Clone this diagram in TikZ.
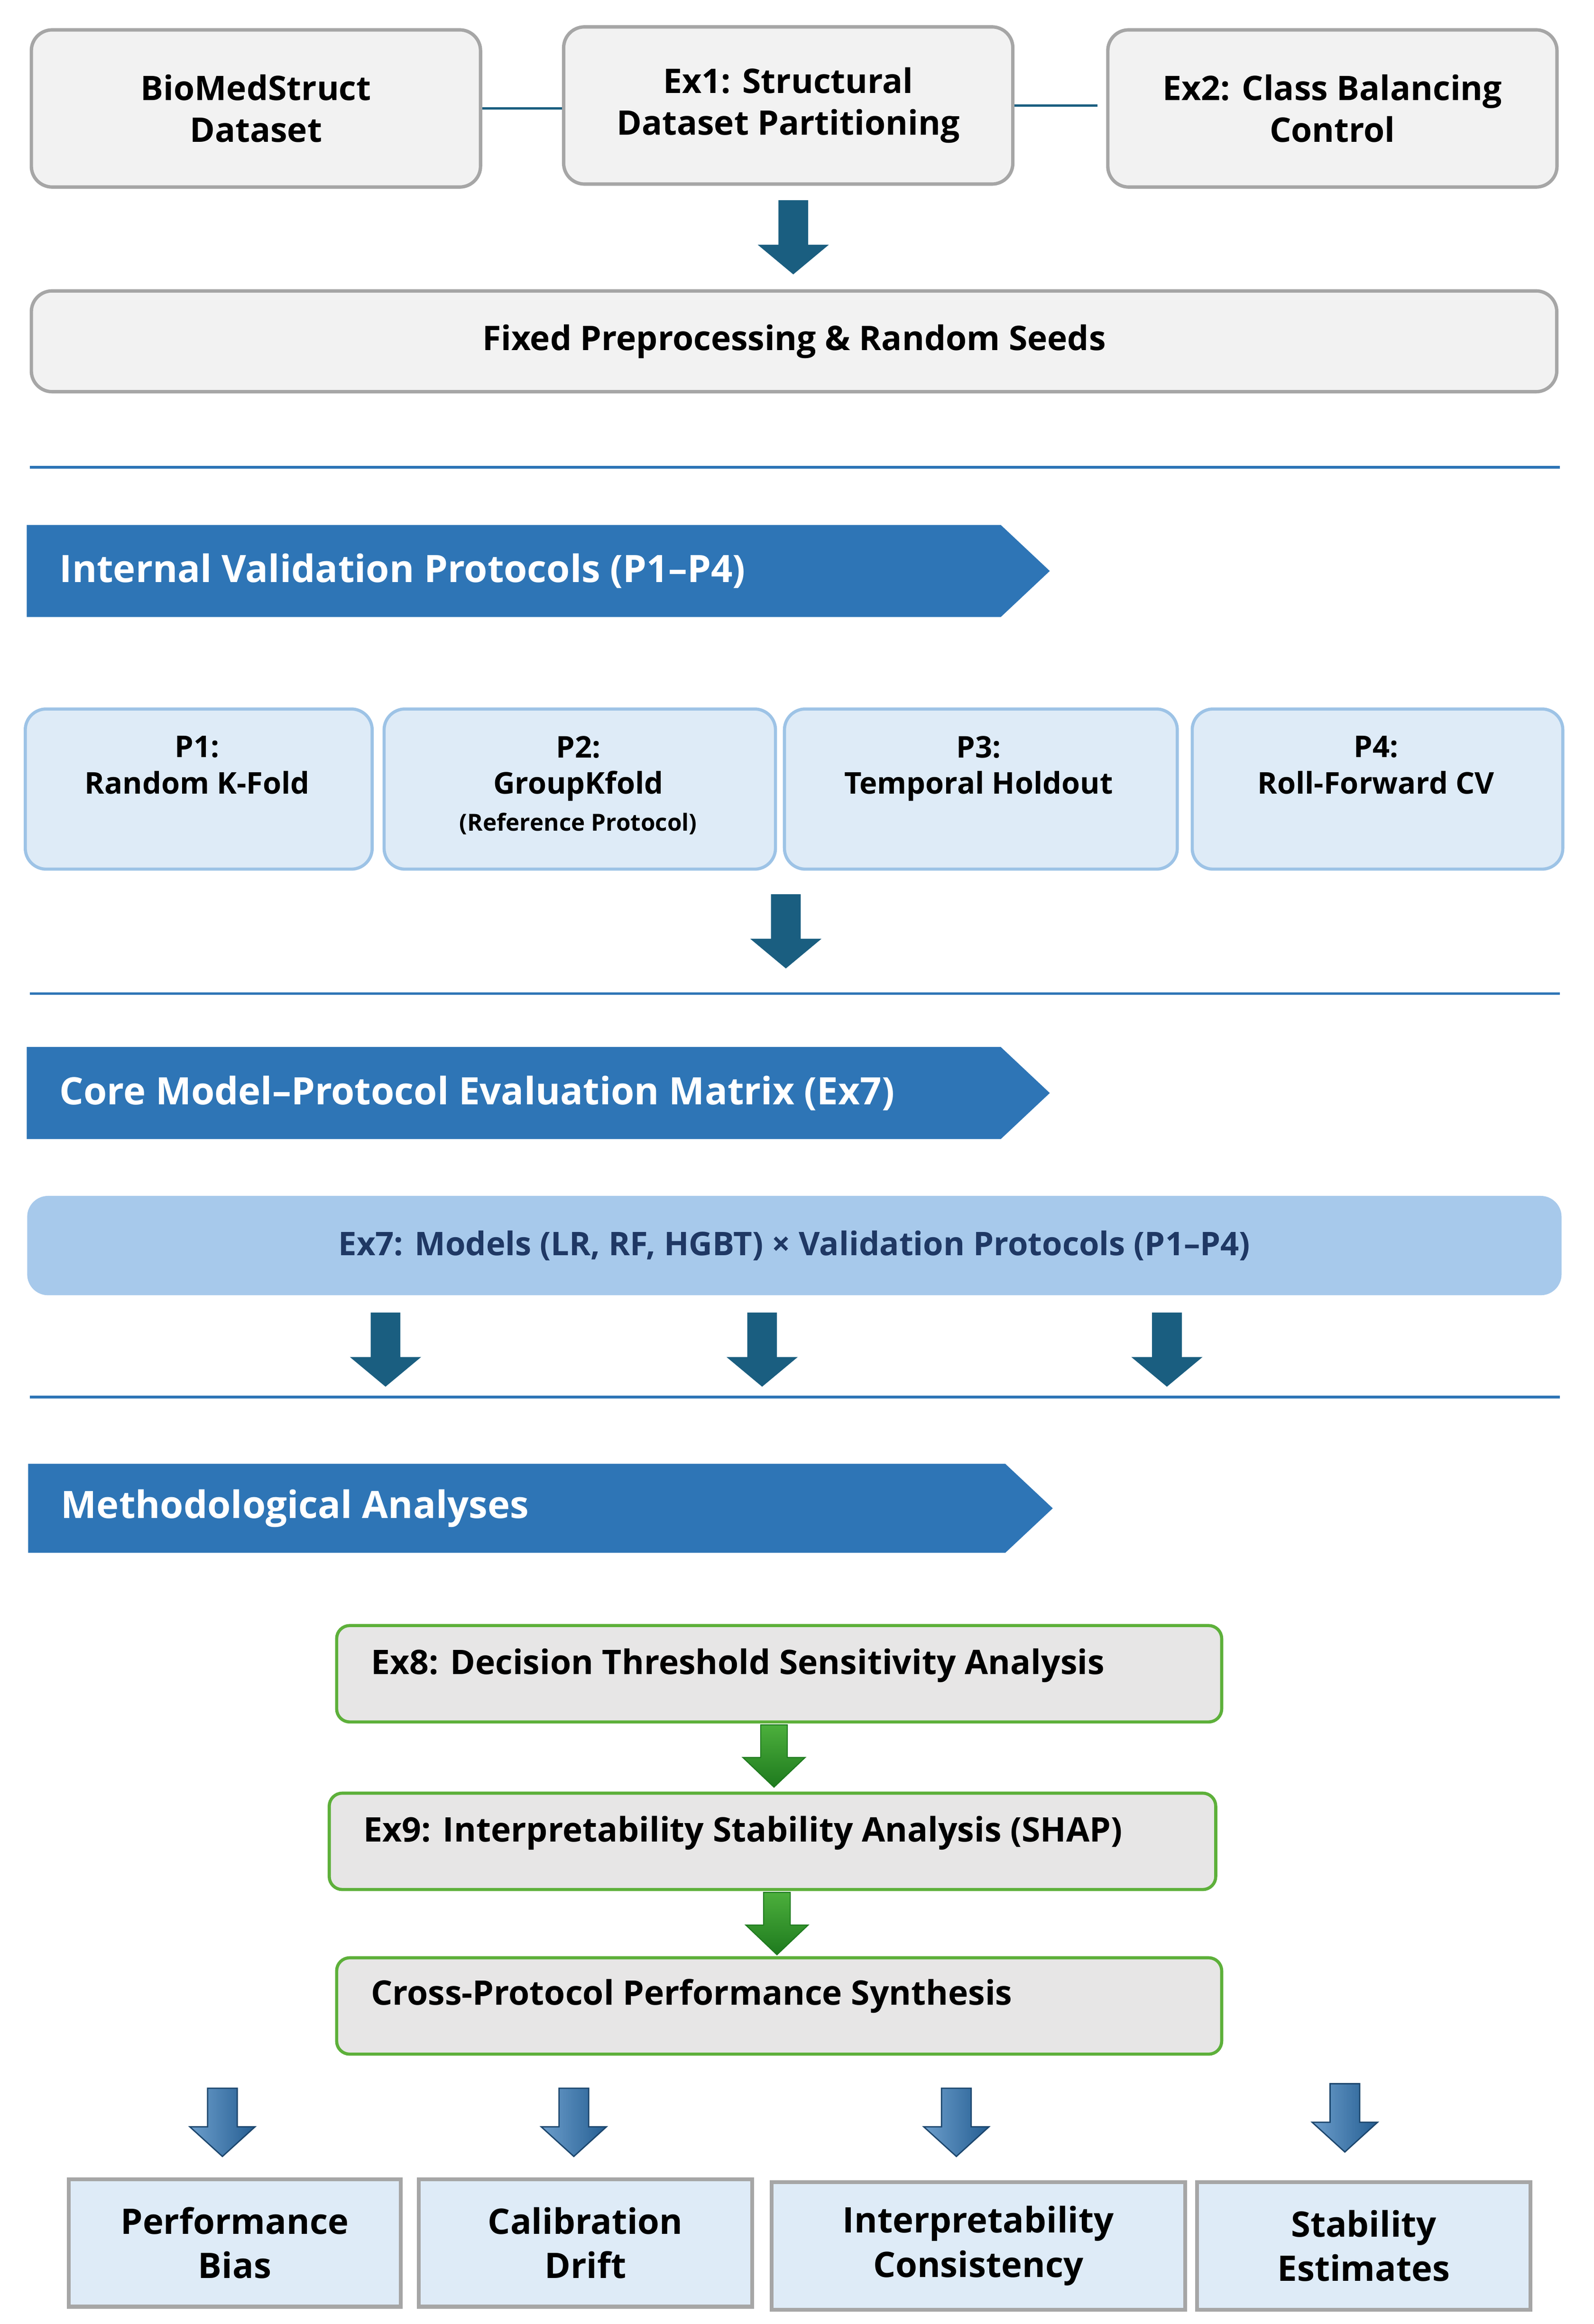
\documentclass[tikz,border=0pt]{standalone}
\usepackage{fontspec}
\setmainfont{Open Sans}
\usetikzlibrary{positioning}
\definecolor{gbox}{HTML}{F2F2F2}
\definecolor{gbord}{HTML}{A6A6A6}
\definecolor{teal}{HTML}{1A5E80}
\definecolor{band}{HTML}{2E75B6}
\definecolor{lblue}{HTML}{DEEBF7}
\definecolor{lbord}{HTML}{9DC3E6}
\definecolor{mblue}{HTML}{A7C9EB}
\definecolor{dblue}{HTML}{1F3864}
\definecolor{gfill}{HTML}{E7E6E6}
\definecolor{gline}{HTML}{5DB03A}
\definecolor{dgreen}{HTML}{1E7A1E}
\definecolor{lgreen}{HTML}{4CAF3C}
\tikzset{
 u/.style={x=0.02cm,y=-0.02cm},
 tbox/.style={draw=gbord,fill=gbox,line width=1.3pt,rounded corners=8pt,align=center,font=\fontsize{13}{16}\selectfont\bfseries,anchor=north west,inner sep=0pt},
 pbox/.style={draw=lbord,fill=lblue,line width=1.2pt,rounded corners=8pt,align=center,font=\fontsize{11}{14}\selectfont\bfseries,anchor=north west,inner sep=0pt},
 exbox/.style={draw=gline,fill=gfill,line width=1.2pt,rounded corners=5pt,anchor=north west,inner sep=0pt,font=\fontsize{13}{16}\selectfont\bfseries},
 resbox/.style={draw=gbord,fill=lblue,line width=1.5pt,align=center,font=\fontsize{13.5}{17}\selectfont\bfseries,anchor=north west,inner sep=0pt},
 hr/.style={band,line width=1pt},
 conn/.style={teal,line width=1pt},
 bandtxt/.style={text=white,font=\fontsize{14.5}{17}\selectfont\bfseries,anchor=west},
 pics/darr/.style={code={\fill[#1] (-10,0)--(10,0)--(10,30)--(24,30)--(0,50)--(-24,30)--(-10,30)--cycle;}},
 pics/garr/.style={code={\shade[top color=lgreen,bottom color=dgreen,draw=dgreen,line width=0.4pt] (-9,0)--(9,0)--(9,22)--(21,22)--(0,42)--(-21,22)--(-9,22)--cycle;}},
 pics/barr/.style={code={\shade[left color=band!70!white,right color=band!80!black,draw=band!60!black,line width=0.5pt] (-10,0)--(10,0)--(10,26)--(22,26)--(0,46)--(-22,26)--(-10,26)--cycle;}},
}
\begin{document}
\begin{tikzpicture}[u]
\useasboundingbox (0,0) rectangle (1075,1567);
% top row
\node[tbox,minimum width=6.06cm,minimum height=2.12cm] (bio) at (20,19) {BioMedStruct\\Dataset};
\node[tbox,minimum width=6.06cm,minimum height=2.12cm] (ex1) at (379,17) {Ex1: Structural\\Dataset Partitioning};
\node[tbox,minimum width=6.06cm,minimum height=2.12cm] (ex2) at (746,19) {Ex2: Class Balancing\\Control};
\draw[conn] (bio.east) -- (ex1.west|-bio.east);
\draw[conn] (ex1.east) -- ++(56,0) coordinate (c2);
\pic at (535,135) {darr=teal};
\node[tbox,minimum width=20.58cm,minimum height=1.36cm] (fix) at (20,195) {Fixed Preprocessing \& Random Seeds};
\draw[hr] (20,315) coordinate (h1a) -- (1052,315) coordinate (h1b);
% band 1
\fill[band] (18,354) -- (675,354) -- (708,385) -- (675,416) -- (18,416) -- cycle;
\node[bandtxt] (b1) at (34,385) {Internal Validation Protocols (P1–P4)};
% protocols
\node[pbox,minimum width=4.68cm,minimum height=2.16cm] (p1) at (16,477) {};
\node[pbox,minimum width=5.28cm,minimum height=2.16cm] (p2) at (258,477) {};
\node[pbox,minimum width=5.30cm,minimum height=2.16cm] (p3) at (528,477) {};
\node[pbox,minimum width=5.00cm,minimum height=2.16cm] (p4) at (803,477) {};
\node[font=\fontsize{11.5}{14}\selectfont\bfseries,align=center,anchor=north] (t1) at (133,490) {P1:\\Random K-Fold};
\node[font=\fontsize{11.5}{14}\selectfont\bfseries,align=center,anchor=north] (t2) at (390,490) {P2:\\GroupKfold};
\node[font=\fontsize{9}{11}\selectfont\bfseries,anchor=north] (t2b) at (390,542) {(Reference Protocol)};
\node[font=\fontsize{11.5}{14}\selectfont\bfseries,align=center,anchor=north] (t3) at (660,490) {P3:\\Temporal Holdout};
\node[font=\fontsize{11.5}{14}\selectfont\bfseries,align=center,anchor=north] (t4) at (928,490) {P4:\\Roll-Forward CV};
\pic at (530,603) {darr=teal};
\draw[hr] (20,670) coordinate (h2a) -- (1052,670) coordinate (h2b);
% band 2
\fill[band] (18,706) -- (675,706) -- (708,737) -- (675,768) -- (18,768) -- cycle;
\node[bandtxt] (b2) at (34,737) {Core Model–Protocol Evaluation Matrix (Ex7)};
\node[fill=mblue,rounded corners=8pt,minimum width=20.7cm,minimum height=1.34cm,anchor=north west,inner sep=0pt,text=dblue,font=\fontsize{12.5}{15}\selectfont\bfseries] (ex7) at (18,806) {Ex7: Models (LR, RF, HGBT) × Validation Protocols (P1–P4)};
\pic at (260,885) {darr=teal};
\pic at (514,885) {darr=teal};
\pic at (787,885) {darr=teal};
\draw[hr] (20,942) coordinate (h3a) -- (1052,942) coordinate (h3b);
% band 3
\fill[band] (19,987) -- (678,987) -- (710,1017) -- (678,1047) -- (19,1047) -- cycle;
\node[bandtxt] (b3) at (35,1017) {Methodological Analyses};
% ex boxes
\node[exbox,minimum width=11.94cm,minimum height=1.3cm] (ex8) at (226,1095) {};
\node[anchor=west,font=\fontsize{13}{16}\selectfont\bfseries] (ex8t) at (244,1123) {Ex8: Decision Threshold Sensitivity Analysis};
\pic at (522,1163) {garr};
\node[exbox,minimum width=11.96cm,minimum height=1.3cm] (ex9) at (221,1208) {};
\node[anchor=west,font=\fontsize{13}{16}\selectfont\bfseries] (ex9t) at (239,1236) {Ex9: Interpretability Stability Analysis (SHAP)};
\pic at (524,1276) {garr};
\node[exbox,minimum width=11.94cm,minimum height=1.3cm] (cps) at (226,1319) {};
\node[anchor=west,font=\fontsize{13}{16}\selectfont\bfseries] (cpst) at (244,1346) {Cross-Protocol Performance Synthesis};
% blue arrows
\pic at (150,1408) {barr};
\pic at (387,1408) {barr};
\pic at (645,1408) {barr};
\pic at (907,1405) {barr};
% results
\node[resbox,minimum width=4.48cm,minimum height=1.72cm] (r1) at (45,1468) {Performance\\Bias};
\node[resbox,minimum width=4.5cm,minimum height=1.72cm] (r2) at (281,1468) {Calibration\\Drift};
\node[resbox,minimum width=5.58cm,minimum height=1.72cm] (r3) at (519,1470) {Interpretability\\Consistency};
\node[resbox,minimum width=4.5cm,minimum height=1.72cm] (r4) at (806,1470) {Stability\\Estimates};
\end{tikzpicture}
\end{document}
